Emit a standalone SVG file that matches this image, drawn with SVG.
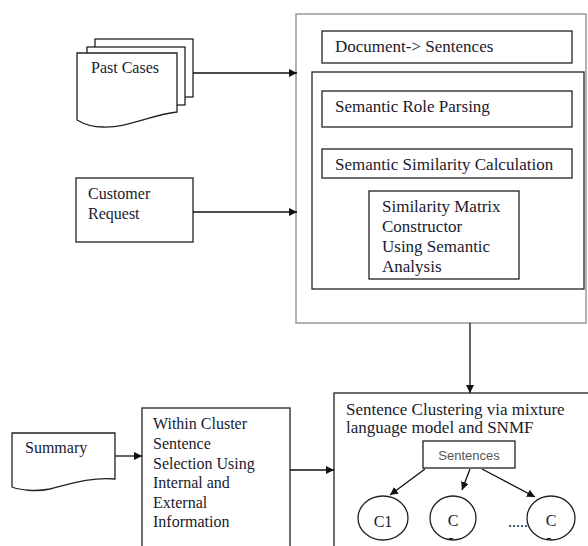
<svg xmlns="http://www.w3.org/2000/svg" width="588" height="546" viewBox="0 0 588 546">
<defs>
<marker id="ah" viewBox="0 0 10 10" refX="10" refY="5" markerWidth="8" markerHeight="8" markerUnits="userSpaceOnUse" orient="auto">
<path d="M0,0 L10,5 L0,10 Z" fill="#111"/>
</marker>
</defs>
<style>
.box{fill:#fff;stroke:#222;stroke-width:1.3}
.gbox{fill:#fff;stroke:#999;stroke-width:1.5}
.t{font-family:"Liberation Serif","Times New Roman",serif;font-size:16px;fill:#1a1a2e}
.t17{font-family:"Liberation Serif","Times New Roman",serif;font-size:17px;fill:#1a1a2e}
.s{font-family:"Liberation Sans",Arial,sans-serif;font-size:13px;fill:#555}
.c{fill:none;stroke:#111;stroke-width:1.3;marker-end:url(#ah)}
</style>
<rect width="588" height="546" fill="#fff"/>

<g id="big-box">
<rect class="gbox" x="296" y="14" width="290" height="309"/>
</g>
<g id="doc-sentences">
<rect class="box" x="322" y="31" width="250" height="32"/>
<text class="t17" x="335" y="52">Document-&gt; Sentences</text>
</g>
<g id="inner-box">
<rect class="box" x="312" y="72" width="272" height="217"/>
</g>
<g id="role-parsing">
<rect class="box" x="322" y="91" width="250" height="36"/>
<text class="t17" x="335" y="112">Semantic Role Parsing</text>
</g>
<g id="similarity-calc">
<rect class="box" x="322" y="149" width="250" height="29"/>
<text class="t17" x="335" y="170">Semantic Similarity Calculation</text>
</g>
<g id="matrix">
<rect class="box" x="369" y="191" width="150" height="88"/>
<text class="t17" x="382" y="212">Similarity Matrix</text>
<text class="t17" x="382" y="232">Constructor</text>
<text class="t17" x="382" y="252">Using Semantic</text>
<text class="t17" x="382" y="272">Analysis</text>
</g>

<g id="past-cases">
<rect class="box" x="95" y="39" width="98" height="58"/>
<rect class="box" x="87" y="47" width="98" height="58"/>
<path class="box" d="M77,53 H177 V112 C150,115 128,128 103,127 C90,127 82,123 77,120 Z"/>
<text class="t" x="91" y="73">Past Cases</text>
</g>
<g id="customer-request">
<rect class="box" x="76" y="178" width="117" height="64"/>
<text class="t" x="88" y="199">Customer</text>
<text class="t" x="88" y="219">Request</text>
</g>

<g id="summary">
<path class="box" d="M12,433 H115 V479 C90,477 70,484 50,489 C35,492 20,490 12,487 Z"/>
<text class="t" x="25" y="453">Summary</text>
</g>
<g id="within-cluster">
<rect class="box" x="142" y="408" width="148" height="150"/>
<text class="t" x="153" y="429">Within Cluster</text>
<text class="t" x="153" y="449">Sentence</text>
<text class="t" x="153" y="469">Selection Using</text>
<text class="t" x="153" y="488">Internal and</text>
<text class="t" x="153" y="508">External</text>
<text class="t" x="153" y="527">Information</text>
</g>
<g id="clustering">
<rect class="box" x="334" y="393" width="260" height="170"/>
<text class="t17" x="346" y="415">Sentence Clustering via mixture</text>
<text class="t17" x="346" y="433">language model and SNMF</text>
</g>
<g id="sentences">
<rect class="box" x="423" y="441" width="92" height="27"/>
<text class="s" x="469" y="460" text-anchor="middle">Sentences</text>
</g>
<g id="c1">
<ellipse class="box" cx="383" cy="518" rx="25" ry="22"/>
<text class="t" x="383" y="527" text-anchor="middle">C1</text>
</g>
<g id="c2">
<ellipse class="box" cx="453" cy="518" rx="23" ry="22"/>
<text class="t" x="453" y="526" text-anchor="middle">C</text>
<text class="t" x="451" y="543" font-size="8" text-anchor="middle">-</text>
</g>
<g id="c3">
<ellipse class="box" cx="551" cy="518" rx="24" ry="22"/>
<text class="t" x="551" y="526" text-anchor="middle">C</text>
<text class="t" x="549" y="543" font-size="8" text-anchor="middle">-</text>
</g>
<text class="t" x="508" y="527" font-size="13">.....</text>

<g id="connectors">
<line class="c" x1="193" y1="73" x2="297" y2="73"/>
<line class="c" x1="193" y1="212" x2="297" y2="212"/>
<line class="c" x1="470" y1="323" x2="470" y2="393"/>
<line class="c" x1="115" y1="456" x2="142" y2="456"/>
<line class="c" x1="290" y1="470" x2="334" y2="470"/>
<line class="c" x1="425" y1="469" x2="390" y2="495"/>
<line class="c" x1="470" y1="469" x2="462" y2="490"/>
<line class="c" x1="482" y1="469" x2="535" y2="497"/>
</g>
</svg>
